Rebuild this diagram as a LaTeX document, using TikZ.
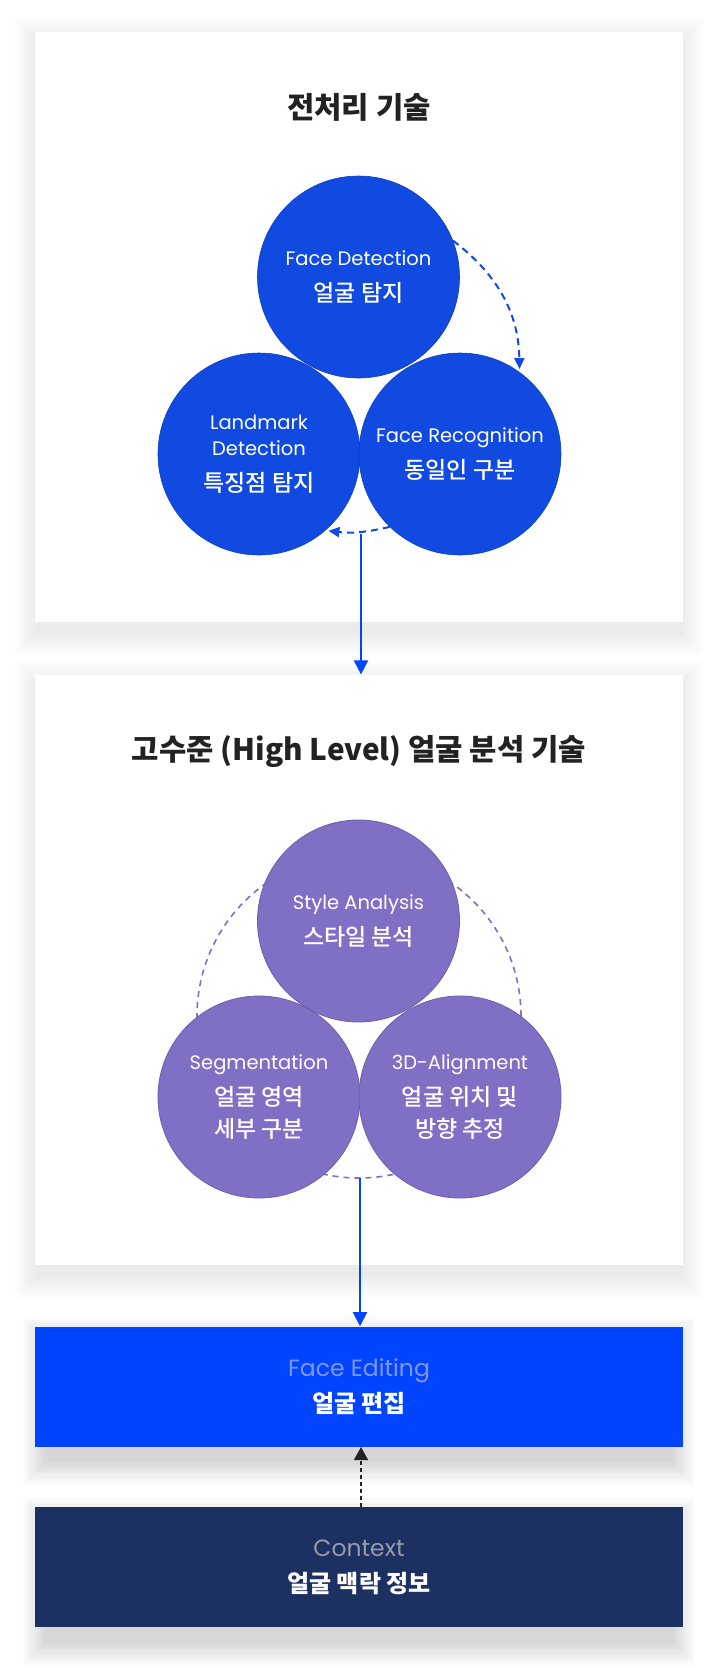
\documentclass[tikz,border=0pt]{standalone}
\usepackage{fontspec}
\usepackage{xcolor}
\usepackage{tikz}
\usetikzlibrary{arrows.meta}
\usetikzlibrary{backgrounds}
\usetikzlibrary{positioning}

\setmainfont{Noto Sans CJK KR}
\newfontfamily\engfont{Poppins}
\newfontfamily\kormid{Noto Sans CJK KR Medium}
\newcommand{\eng}[1]{{\engfont\fontsize{19.5}{26}\selectfont #1}}
\newcommand{\boxeng}[1]{{\engfont\fontsize{23.5}{28}\selectfont #1}}

\definecolor{bluecirc}{HTML}{104AE0}
\definecolor{purplecirc}{HTML}{7F70C6}
\definecolor{editblue}{HTML}{0044FF}
\definecolor{ctxnavy}{HTML}{1C3062}
\definecolor{inkdark}{HTML}{222222}
\definecolor{editfaint}{HTML}{7F97F4}
\definecolor{ctxfaint}{HTML}{979BA6}

\begin{document}
\begin{tikzpicture}[
  x=1pt, y=1pt,
  thick,
  font=\kormid\fontsize{23}{26}\selectfont
]
\tikzset{
    stagebox/.style = {rectangle, fill=white, minimum width=648pt, minimum height=590pt, inner sep=0pt},
    tailbox/.style = {rectangle, minimum width=648pt, minimum height=120pt, inner sep=0pt, align=center, text=white, font=\fontsize{24}{28}\selectfont},
    boxtitle/.style = {text=inkdark, font=\fontsize{29.7}{32}\selectfont\bfseries},
    bluedot/.style = {circle, minimum size=202pt, inner sep=0pt, fill=bluecirc, draw=bluecirc!85!black, line width=0.6pt, align=center, text=white, on grid},
    purpledot/.style = {circle, minimum size=202pt, inner sep=0pt, fill=purplecirc, draw=purplecirc!85!black, line width=0.8pt, align=center, text=white, on grid},
    flowdash/.style = {draw=bluecirc, line width=2pt, dash pattern=on 7pt off 5pt, -{Triangle[length=11pt,width=10pt]}, shorten >=3pt},
    ringdash/.style = {draw=purplecirc, line width=1.6pt, dash pattern=on 6pt off 5pt},
    linkarrow/.style = {draw=editblue, line width=2pt, -{Triangle[length=14pt,width=14pt]}},
    ctxarrow/.style = {draw=inkdark, line width=1.5pt, dash pattern=on 4pt off 3pt, -{Triangle[length=13pt,width=14pt]}}
}
\useasboundingbox (0,0) rectangle (720,-1674);

% stage boxes
\node[stagebox] (box1) at (359,-327) {};
\node[stagebox, below=52pt of box1] (box2) {};
\node[tailbox, fill=editblue, below=61pt of box2] (edit) {\boxeng{\color{editfaint}Face Editing}\\[8pt]{\bfseries 얼굴 편집}};
\node[tailbox, fill=ctxnavy, below=60pt of edit] (ctx) {\boxeng{\color{ctxfaint}Context}\\[8pt]{\bfseries 얼굴 맥락 정보}};

\node[boxtitle] (t1) at (359,-107) {전처리 기술};
\node[boxtitle] (t2) at (359,-752) {고수준 (High Level) 얼굴 분석 기술};

% preprocessing circles
\node[bluedot] (fd) at (358.5,-277) {\eng{Face Detection}\\[10pt]얼굴 탐지};
\node[bluedot, below left=177pt and 99.5pt of fd] (fl) {\eng{Landmark}\\\eng{Detection}\\[10pt]특징점 탐지};
\node[bluedot, below right=177pt and 101.5pt of fd] (fr) {\eng{Face Recognition}\\[10pt]동일인 구분};
\draw[flowdash] (fd.21) to[bend left=26] (fr.54);
\draw[flowdash] (fr.226) to[bend left=10] (fl.311);

% analysis circles
\coordinate (ring) at (359,-1016);
\draw[ringdash] (ring) circle[radius=162];
\node[purpledot] (sa) at (358.5,-921) {\eng{Style Analysis}\\[10pt]스타일 분석};
\node[purpledot, below left=176pt and 99.5pt of sa] (sg) {\eng{Segmentation}\\[10pt]얼굴 영역\\[6pt]세부 구분};
\node[purpledot, below right=176pt and 101.5pt of sa] (al) {\eng{3D-Alignment}\\[10pt]얼굴 위치 및\\[6pt]방향 추정};

% links between stages
\coordinate (tap1) at (361,-534);
\coordinate (tap2) at (360,-1178);
\draw[linkarrow] (tap1) -- (tap1 |- box2.north);
\draw[linkarrow] (tap2) -- (tap2 |- edit.north);
\draw[ctxarrow] ([xshift=2pt]ctx.north) -- ([xshift=2pt]edit.south);

% soft shadows: box / drop / opacity / side inset
\begin{scope}[on background layer]
  \fill[white] (0,0) rectangle (720,-1674);
  \foreach \b/\o/\a/\i in {box1/10/0.004/3, box2/10/0.004/3, edit/14/0.0075/12, ctx/14/0.0075/12}{
    \foreach \s in {1,...,20}{
      \fill[black, opacity=\a] ([xshift=\i*1pt-\s*1.2pt, yshift=-\o*1pt-\s*1.2pt]\b.south west) rectangle ([xshift=\s*1.2pt-\i*1pt, yshift=-\o*1pt+\s*1.2pt]\b.north east);
    }
  }
\end{scope}
\end{tikzpicture}
\end{document}
